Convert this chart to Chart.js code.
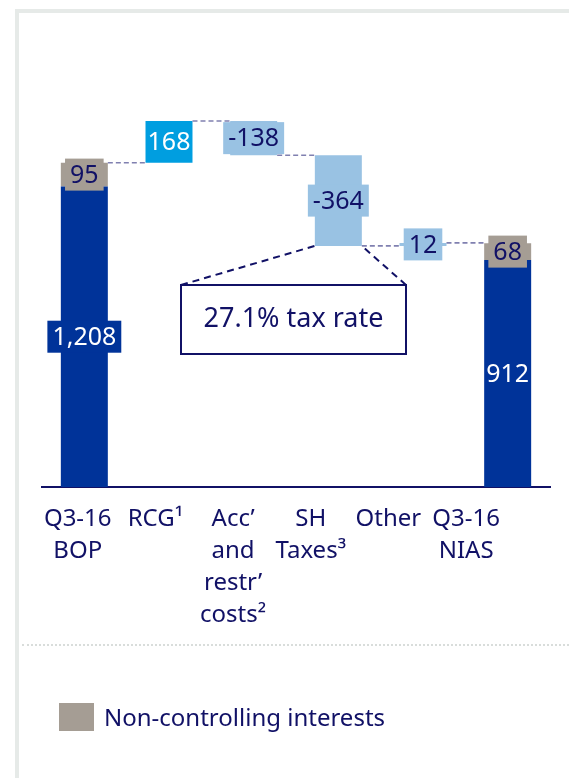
<!DOCTYPE html>
<html>
<head>
<meta charset="utf-8">
<script src="https://cdn.jsdelivr.net/npm/chart.js@4"></script>
<style>
  body { margin: 0; background: #fff; font-family: "Noto Sans", sans-serif; }
  #wrap { position: relative; width: 569px; height: 778px; overflow: hidden; }
  #frame { position: absolute; left: 15px; top: 9px; right: -10px; bottom: -10px;
           border-left: 4px solid #e6eae8; border-top: 4px solid #e6eae8; }
  #sep { position: absolute; left: 22px; right: 0; top: 644px; border-top: 2px dotted #d9dddb; }
  #chart { position: absolute; left: 0; top: 0; }
  #legend { position: absolute; left: 59px; top: 700px; display: flex; align-items: center;
            color: #111166; font-size: 24px; }
  #legend span { display: inline-block; width: 35px; height: 28px; background: #a59d94; margin-right: 10px; }
</style>
</head>
<body>
<div id="wrap">
  <div id="frame"></div>
  <div id="sep"></div>
  <canvas id="chart" width="569" height="778"></canvas>
  <div id="legend"><span></span>Non-controlling interests</div>
</div>
<script>
'use strict'

// data
const categories = ['Q3-16 BOP', 'RCG¹', 'Acc’ and restr’ costs²', 'SH Taxes³', 'Other', 'Q3-16 NIAS']
const axisLabels = [['Q3-16', 'BOP'], ['RCG¹'], ['Acc’', 'and', 'restr’', 'costs²'], ['SH', 'Taxes³'], ['Other'], ['Q3-16', 'NIAS']]
const operatingValues = [1208, null, null, null, null, 912]
const nciValues = [95, null, null, null, null, 68]
const changeValues = [null, 168, -138, -364, 12, null]
const taxNote = '27.1% tax rate'

// colours
const navy = '#111166'
const darkBlue = '#003399'
const brightBlue = '#009ee0'
const lightBlue = '#99c2e3'
const grey = '#a59d94'
const changeColors = [null, brightBlue, lightBlue, lightBlue, lightBlue, null]
const changeTextColors = [null, '#ffffff', navy, navy, navy, null]

const font = '"Noto Sans", sans-serif'

// floating ranges for the waterfall
const baseRanges = operatingValues.map(v => v == null ? null : [0, v])
const nciRanges = nciValues.map((v, i) => v == null ? null : [operatingValues[i], operatingValues[i] + v])
let running = operatingValues[0] + nciValues[0]
const changeRanges = changeValues.map(v => {
    if (v == null) return null
    const r = [running, running + v]
    running += v
    return r
})

const valueText = (ds, i) => {
    const v = ds.raw[i]
    return v == null ? '' : v.toLocaleString('en-US')
}

const labelPlugin = {
    id: 'labels',
    afterDatasetsDraw(chart) {
        const ctx = chart.ctx
        const y = chart.scales.y

        // connectors between consecutive bars
        const tops = chart.data.labels.map((c, i) => {
            if (changeRanges[i]) return { el: chart.getDatasetMeta(2).data[i], endVal: changeRanges[i][1] }
            return { el: chart.getDatasetMeta(1).data[i], endVal: nciRanges[i][1] }
        })
        ctx.save()
        ctx.strokeStyle = '#8080b0'
        ctx.lineWidth = 1.6
        ctx.setLineDash([5, 3])
        for (let i = 0; i < tops.length - 1; i++) {
            const a = tops[i].el
            const b = tops[i + 1].el
            const yv = y.getPixelForValue(tops[i].endVal)
            ctx.beginPath()
            ctx.moveTo(a.x + a.width / 2, yv)
            ctx.lineTo(b.x - b.width / 2, yv)
            ctx.stroke()
        }
        ctx.restore()

        // annotation for the tax bar
        const sh = chart.getDatasetMeta(2).data[3]
        const shBottom = Math.max(sh.y, sh.base)
        const box = { left: 181, top: 285, right: 406, bottom: 354 }
        ctx.save()
        ctx.strokeStyle = navy
        ctx.lineWidth = 2
        ctx.setLineDash([7, 5])
        ctx.beginPath()
        ctx.moveTo(box.left, box.top)
        ctx.lineTo(sh.x - sh.width / 2, shBottom)
        ctx.moveTo(box.right, box.top)
        ctx.lineTo(sh.x + sh.width / 2, shBottom)
        ctx.stroke()
        ctx.setLineDash([])
        ctx.fillStyle = '#ffffff'
        ctx.fillRect(box.left, box.top, box.right - box.left, box.bottom - box.top)
        ctx.strokeRect(box.left, box.top, box.right - box.left, box.bottom - box.top)
        ctx.fillStyle = navy
        ctx.font = '27px ' + font
        ctx.textAlign = 'center'
        ctx.textBaseline = 'middle'
        ctx.fillText(taxNote, (box.left + box.right) / 2, (box.top + box.bottom) / 2)
        ctx.restore()

        // value labels with background boxes
        ctx.save()
        ctx.font = '25px ' + font
        ctx.textAlign = 'center'
        ctx.textBaseline = 'middle'
        chart.data.datasets.forEach((ds, di) => {
            chart.getDatasetMeta(di).data.forEach((el, i) => {
                if (ds.data[i] == null) return
                const txt = valueText(ds, i)
                const cy = (el.y + el.base) / 2
                const tw = ctx.measureText(txt).width
                const w = tw + 10
                const fits = tw + 4 <= el.width && Math.abs(el.base - el.y) >= 32
                if (!fits) {
                    ctx.fillStyle = Array.isArray(ds.backgroundColor) ? ds.backgroundColor[i] : ds.backgroundColor
                    ctx.fillRect(el.x - w / 2, cy - 16, w, 32)
                }
                ctx.fillStyle = ds.textColors[i]
                ctx.fillText(txt, el.x, cy + 1)
            })
        })
        ctx.restore()
    }
}

const ctx = document.getElementById('chart')

const myChart = new Chart(ctx, {
    type: 'bar',
    data: {
        labels: categories,
        datasets: [
            {
                label: 'Operating',
                data: baseRanges,
                raw: operatingValues,
                backgroundColor: darkBlue,
                textColors: operatingValues.map(() => '#ffffff'),
            },
            {
                label: 'Non-controlling interests',
                data: nciRanges,
                raw: nciValues,
                backgroundColor: grey,
                textColors: nciValues.map(() => navy),
            },
            {
                label: 'Changes',
                data: changeRanges,
                raw: changeValues,
                backgroundColor: changeColors,
                textColors: changeTextColors,
            },
        ],
    },
    options: {
        responsive: false,
        animation: false,
        devicePixelRatio: 1,
        layout: { padding: { left: 42, right: 19, top: 64, bottom: 0 } },
        datasets: { bar: { grouped: false, barPercentage: 0.555, categoryPercentage: 1 } },
        plugins: { legend: { display: false }, tooltip: { enabled: false } },
        scales: {
            x: { display: false },
            y: { display: false, min: 0, max: 1700 },
            x2: {
                type: 'linear',
                position: 'bottom',
                offset: false,
                min: -0.46,
                max: 6.08,
                grid: { display: false, drawTicks: false, offset: false },
                border: { display: true, color: navy, width: 2 },
                afterBuildTicks: (s) => { s.ticks = axisLabels.map((_, i) => ({ value: i })) },
                afterFit: (s) => { s.height = 291 },
                ticks: {
                    autoSkip: false,
                    maxRotation: 0,
                    padding: 16,
                    color: navy,
                    font: { family: font, size: 24, lineHeight: 1.333 },
                    callback: (v, i) => axisLabels[i],
                },
            },
        },
    },
    plugins: [labelPlugin],
})
</script>
</body>
</html>
